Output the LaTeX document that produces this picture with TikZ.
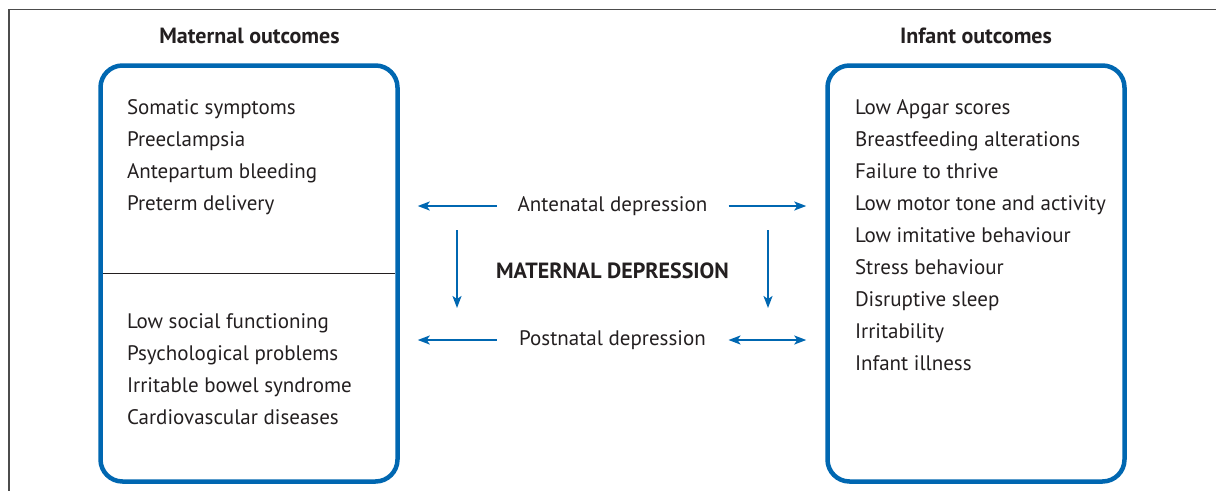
\documentclass[tikz,border=0pt]{standalone}
\usepackage{fontspec}
\setmainfont{PT Sans}
\usepackage{tikz}
\usetikzlibrary{positioning,arrows.meta}
\definecolor{outblue}{RGB}{0,103,177}
\definecolor{txtgray}{RGB}{35,31,32}

\begin{document}
\begin{tikzpicture}[%
    x=1pt,
    y=-1pt,
    font=\fontsize{21}{25}\selectfont,
    text=txtgray,
    >={Stealth[length=12pt,width=9pt,inset=3pt]},
    node distance=12pt,
    outbox/.style={%
      rectangle,
      rounded corners=22pt,
      minimum width=297pt,
      minimum height=416pt,
      line width=4.5pt,
      draw=outblue
    },
    head/.style={%
      inner sep=0pt,
      anchor=base,
      font=\fontsize{22}{26}\selectfont\bfseries
    },
    item/.style={%
      inner sep=0pt,
      outer sep=0pt,
      text height=15pt,
      text depth=5pt
    },
    mid/.style={%
      item,
      anchor=base,
      minimum width=190pt
    },
    link/.style={%
      ->,
      line width=2pt,
      draw=outblue
    }
  ]
    \useasboundingbox (0,0) rectangle (1216,491);
    \draw[line width=1.5pt, draw=black!70] (1216,9.5) -- (9,9.5) -- (9,491);

    % the two outcome boxes
    \node[outbox] (mbox) at (249,273.5) {};
    \node[outbox] (ibox) at (976,273.5) {};
    \draw[line width=0.8pt, draw=txtgray]
          ([xshift=4.5pt]mbox.west) -- ([xshift=-4.5pt]mbox.east);

    \node[head] (mhead) at (249.5,43) {Maternal outcomes};
    \node[head] (ihead) at (976,43)   {Infant outcomes};

    % maternal outcomes, antenatal
    \node[item, anchor=base west] (m1) at (127,114)                           {Somatic symptoms};
    \node[item] (m2) [below=of m1.south west, anchor=north west]              {Preeclampsia};
    \node[item] (m3) [below=of m2.south west, anchor=north west]              {Antepartum bleeding};
    \node[item] (m4) [below=of m3.south west, anchor=north west]              {Preterm delivery};

    % maternal outcomes, postnatal
    \node[item, anchor=base west] (m5) at (127,328)                           {Low social functioning};
    \node[item] (m6) [below=of m5.south west, anchor=north west]              {Psychological problems};
    \node[item] (m7) [below=of m6.south west, anchor=north west]              {Irritable bowel syndrome};
    \node[item] (m8) [below=of m7.south west, anchor=north west]              {Cardiovascular diseases};

    % infant outcomes
    \node[item, anchor=base west] (i1) at (855,114)                           {Low Apgar scores};
    \node[item] (i2) [below=of i1.south west, anchor=north west]              {Breastfeeding alterations};
    \node[item] (i3) [below=of i2.south west, anchor=north west]              {Failure to thrive};
    \node[item] (i4) [below=of i3.south west, anchor=north west]              {Low motor tone and activity};
    \node[item] (i5) [below=of i4.south west, anchor=north west]              {Low imitative behaviour};
    \node[item] (i6) [below=of i5.south west, anchor=north west]              {Stress behaviour};
    \node[item] (i7) [below=of i6.south west, anchor=north west]              {Disruptive sleep};
    \node[item] (i8) [below=of i7.south west, anchor=north west]              {Irritability};
    \node[item] (i9) [below=of i8.south west, anchor=north west]              {Infant illness};

    % maternal depression in the middle
    \node[mid] (ante) at (612.5,211) {Antenatal depression};
    \node[mid] (post) at (612.5,345) {Postnatal depression};
    \node[head] (md)  at (612.5,278) {MATERNAL DEPRESSION};

    \coordinate (ltop) at (457,230);
    \coordinate (lbot) at (457,308);
    \coordinate (rtop) at (768,230);
    \coordinate (rbot) at (768,308);

    \draw[link, shorten <=21pt, shorten >=18pt] (ante.west) -- (ante.west -| mbox.east);
    \draw[link, shorten <=21pt, shorten >=19pt] (ante.east) -- (ante.east -| ibox.west);
    \draw[link, shorten <=21pt, shorten >=18pt] (post.west) -- (post.west -| mbox.east);
    \draw[link, <->, shorten <=21pt, shorten >=19pt] (post.east) -- (post.east -| ibox.west);
    \draw[link] (ltop) -- (lbot);
    \draw[link] (rtop) -- (rbot);
  \end{tikzpicture}
\end{document}
